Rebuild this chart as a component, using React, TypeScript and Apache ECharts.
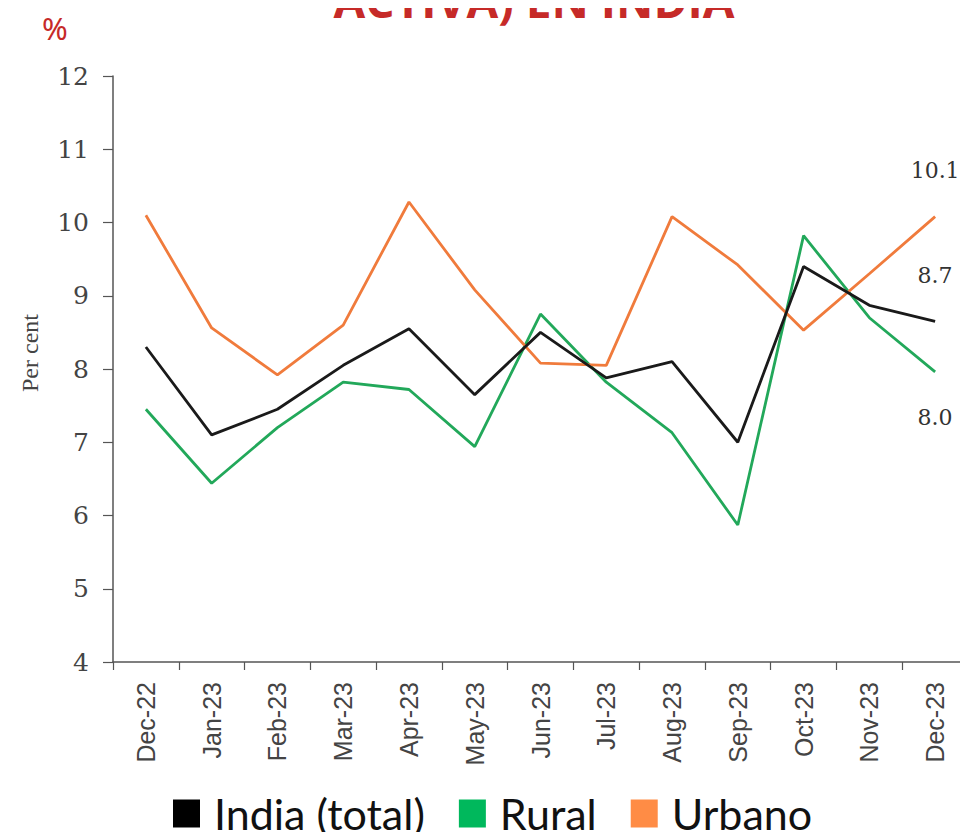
import React, { useEffect, useRef } from "react";
import * as echarts from "echarts";

const categories = ["Dec-22", "Jan-23", "Feb-23", "Mar-23", "Apr-23", "May-23", "Jun-23", "Jul-23", "Aug-23", "Sep-23", "Oct-23", "Nov-23", "Dec-23"];
const indiaTotal = [8.3, 7.1, 7.45, 8.05, 8.55, 7.65, 8.5, 7.88, 8.1, 7.0, 9.4, 8.87, 8.65];
const rural = [7.45, 6.44, 7.2, 7.82, 7.72, 6.94, 8.75, 7.82, 7.13, 5.87, 9.82, 8.7, 7.96];
const urban = [10.1, 8.56, 7.92, 8.6, 10.28, 9.08, 8.08, 8.05, 10.08, 9.42, 8.53, 9.3, 10.08];
const endLabels = ["8.7", "8.0", "10.1"];
const seriesNames = ["India (total)", "Rural", "Urbano"];
const yTicks = { min: 4, max: 12, interval: 1 };

const lineColors = ["#1a1a1a", "#22a85a", "#f07b3c"];
const legendColors = ["#000000", "#00b85c", "#ff8c45"];

function withEndLabel(values: number[], label: string, above: boolean) {
  return values.map((v, i) =>
    i === values.length - 1
      ? {
          value: v,
          label: {
            show: true,
            formatter: label,
            position: above ? "top" : "bottom",
            distance: 35,
            fontFamily: "DejaVu Serif",
            fontSize: 22,
            color: "#333",
          },
        }
      : v
  );
}

export default function App() {
  const ref = useRef<HTMLDivElement>(null);
  useEffect(() => {
    if (!ref.current) return;
    const chart = echarts.init(ref.current, null, { renderer: "svg" });
    const dataSets = [indiaTotal, rural, urban];
    const above = [true, false, true];
    chart.setOption({
      animation: false,
      backgroundColor: "#ffffff",
      graphic: [
        {
          type: "text",
          x: 534,
          y: 23,
          style: {
            text: "ACTIVA) EN INDIA",
            align: "center",
            verticalAlign: "bottom",
            fontFamily: "Open Sans",
            fontWeight: "bold",
            fontSize: 46,
            fill: "#c62a28",
          },
        },
        {
          type: "text",
          x: 42,
          y: 12,
          style: {
            text: "%",
            fontFamily: "Noto Sans",
            fontSize: 31,
            fill: "#c62a28",
          },
        },
        {
          type: "text",
          x: 30,
          y: 353,
          rotation: Math.PI / 2,
          style: {
            text: "Per cent",
            align: "center",
            verticalAlign: "middle",
            fontFamily: "Liberation Serif",
            fontSize: 24,
            fill: "#444",
          },
        },
      ],
      legend: {
        bottom: 0,
        left: 168,
        itemWidth: 27,
        itemHeight: 28,
        itemGap: 34,
        icon: "rect",
        textStyle: { fontFamily: "Lato", fontSize: 43, color: "#111", padding: [0, 0, 0, 9] },
        data: seriesNames.map((n, i) => ({ name: n, itemStyle: { color: legendColors[i] } })),
      },
      grid: { left: 113, top: 76, width: 858, height: 586 },
      xAxis: {
        type: "category",
        data: categories,
        boundaryGap: true,
        axisLine: { show: true, lineStyle: { color: "#555", width: 1.5 } },
        axisTick: { show: true, length: 8, lineStyle: { color: "#555", width: 1.2 } },
        axisLabel: {
          rotate: 90,
          margin: 20,
          fontFamily: "Liberation Sans",
          fontSize: 25,
          color: "#444",
          interval: 0,
        },
      },
      yAxis: {
        type: "value",
        min: yTicks.min,
        max: yTicks.max,
        interval: yTicks.interval,
        axisLine: { show: true, lineStyle: { color: "#555", width: 1.5 } },
        axisTick: { show: true, length: 10, lineStyle: { color: "#555", width: 1.2 } },
        axisLabel: { margin: 24, fontFamily: "DejaVu Serif", fontSize: 25, color: "#444" },
        splitLine: { show: false },
      },
      series: seriesNames.map((n, i) => ({
        name: n,
        type: "line",
        data: withEndLabel(dataSets[i], endLabels[i], above[i]),
        symbol: "circle",
        symbolSize: 0.1,
        showSymbol: true,
        color: lineColors[i],
        itemStyle: { color: lineColors[i] },
        lineStyle: { width: 2.8, color: lineColors[i] },
        z: i === 0 ? 3 : 2,
      })),
    });
    return () => chart.dispose();
  }, []);
  return <div ref={ref} style={{ width: 968, height: 840, margin: -8 }} />;
}
